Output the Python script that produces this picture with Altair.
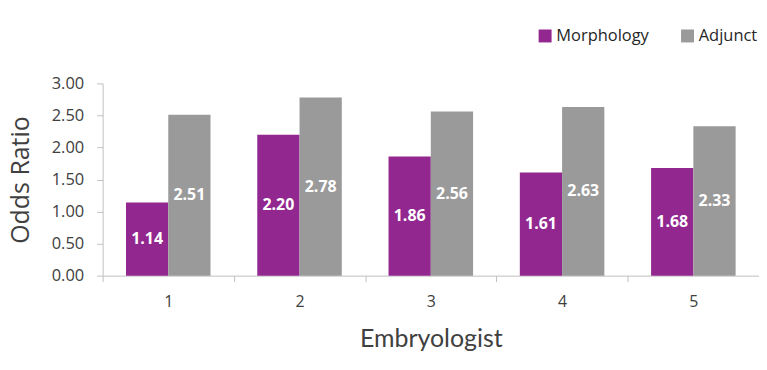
import altair as alt
import pandas as pd

embryologists = ["1", "2", "3", "4", "5"]
morphology = [1.14, 2.20, 1.86, 1.61, 1.68]
adjunct = [2.51, 2.78, 2.56, 2.63, 2.33]
series = ["Morphology", "Adjunct"]
colors = ["#92278F", "#9A9A9A"]

rows = []
for i, e in enumerate(embryologists):
    rows.append({"Embryologist": e, "Series": "Morphology", "Value": morphology[i]})
    rows.append({"Embryologist": e, "Series": "Adjunct", "Value": adjunct[i]})
df = pd.DataFrame(rows)

FONT = "Open Sans"

x = alt.X("Embryologist:N", sort=embryologists,
          scale=alt.Scale(paddingInner=0, paddingOuter=0),
          axis=alt.Axis(title="Embryologist", labelAngle=0, tickBand="extent",
                        labelFont=FONT, labelFontSize=16, labelColor="#404040",
                        labelPadding=12, tickSize=6, tickColor="#BFBFBF",
                        domainColor="#BFBFBF", titleFont="Lato", titleFontSize=25,
                        titleFontWeight="normal", titleColor="#404040", titlePadding=17,
                        grid=False, labelOverlap=False))
xo = alt.XOffset("Series:N", sort=series,
                 scale=alt.Scale(domain=series, paddingInner=0, paddingOuter=0.553))

y_scale = alt.Scale(domain=[0, 3], nice=False)
y_axis = alt.Axis(title="Odds Ratio", format=".2f", values=[0, 0.5, 1, 1.5, 2, 2.5, 3],
                  labelOverlap=False,
                  labelFont=FONT, labelFontSize=16.5, labelColor="#404040",
                  labelPadding=13, tickSize=6, tickColor="#BFBFBF",
                  domainColor="#BFBFBF", grid=False, titleFont=FONT,
                  titleFontSize=25, titleFontWeight="normal", titleColor="#404040",
                  titlePadding=18)

base = alt.Chart(df).encode(x=x, xOffset=xo)

bars = base.mark_bar().encode(
    y=alt.Y("Value:Q", scale=y_scale, axis=y_axis),
    color=alt.Color("Series:N", sort=series,
                    scale=alt.Scale(domain=series, range=colors),
                    legend=alt.Legend(title=None, orient="none", direction="horizontal",
                                      legendX=436, legendY=-56, symbolType="square",
                                      symbolSize=169, symbolStrokeWidth=0, symbolOpacity=1,
                                      labelFont=FONT, labelFontSize=16.5, labelColor="#262626",
                                      columnPadding=30, labelOffset=3)),
)

labels = base.mark_text(font=FONT, fontSize=16, fontWeight="bold", color="white",
                        baseline="middle").transform_calculate(
    mid="datum.Value / 2"
).encode(
    y=alt.Y("mid:Q", scale=y_scale, axis=y_axis),
    text=alt.Text("Value:Q", format=".2f"),
)

chart = alt.layer(bars, labels).properties(
    width=659, height=193,
    background="white",
    autosize=alt.AutoSizeParams(type="none"),
    padding={"left": 95, "top": 75, "right": 0, "bottom": 86},
).configure_view(stroke=None)

chart.save("out.html", embed_options={"renderer": "svg", "actions": False})
